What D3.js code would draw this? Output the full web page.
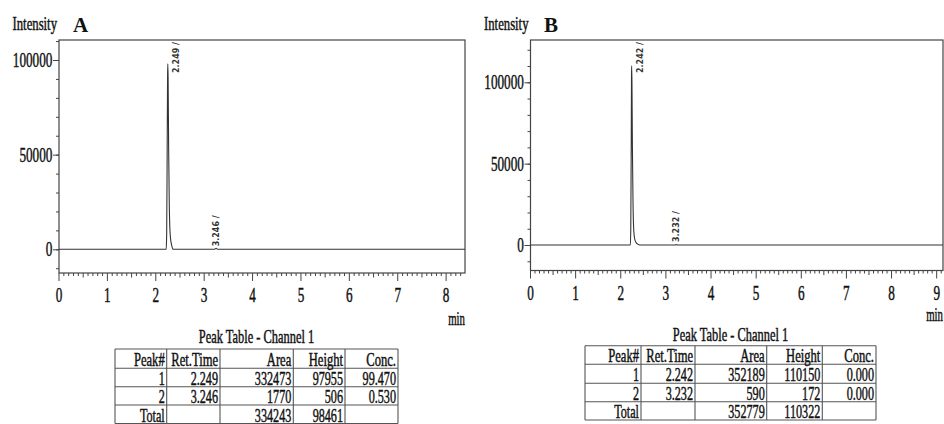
<!DOCTYPE html>
<html>
<head>
<meta charset="utf-8">
<script src="https://cdn.jsdelivr.net/npm/d3@7"></script>
<style>
  body { margin: 0; background: #fff; }
  svg { display: block; }
</style>
</head>
<body>
<svg width="944" height="424"></svg>
<script>
// chromatogram traces (min, intensity)
const timeA = [0, 2.20, 2.215, 2.225, 2.235, 2.244, 2.249, 2.255, 2.265, 2.28, 2.30, 2.33, 2.36, 3.21, 3.246, 3.28, 8.4];
const intensityA = [0, 0, 0, 8000, 50000, 92000, 97955, 90000, 55000, 22000, 7000, 2000, 0, 0, 506, 0, 0];
const timeB = [0, 2.20, 2.212, 2.222, 2.232, 2.238, 2.242, 2.248, 2.258, 2.272, 2.29, 2.32, 2.36, 2.42, 3.20, 3.232, 3.27, 9.2];
const intensityB = [0, 0, 0, 10000, 60000, 104000, 110150, 100000, 60000, 25000, 8000, 2500, 800, 0, 0, 172, 0, 0];

const peakTimesA = [2.249, 3.246];
const peakHeightsA = [97955, 506];
const peakTimesB = [2.242, 3.232];
const peakHeightsB = [110150, 172];

const yTickLabels = [0, 50000, 100000];
const xTicksA = [0, 1, 2, 3, 4, 5, 6, 7, 8];
const xTicksB = [0, 1, 2, 3, 4, 5, 6, 7, 8, 9];

const tableHeader = ["Peak#", "Ret.Time", "Area", "Height", "Conc."];
const rowsA = [
    ["1", "2.249", "332473", "97955", "99.470"],
    ["2", "3.246", "1770", "506", "0.530"],
    ["Total", "", "334243", "98461", ""]
];
const rowsB = [
    ["1", "2.242", "352189", "110150", "0.000"],
    ["2", "3.232", "590", "172", "0.000"],
    ["Total", "", "352779", "110322", ""]
];

const serif = "'Liberation Serif', 'Times New Roman', serif";
const ink = "#111";
const lineInk = "#444";

const svg = d3.select("svg");

function condensedText(g, x, y, txt, size, sx, anchor, weight) {
    return g.append("text")
        .attr("transform", `translate(${x},${y}) scale(${sx},1)`)
        .attr("text-anchor", anchor || "start")
        .style("font-family", serif)
        .style("font-size", size + "px")
        .style("font-weight", weight || "normal")
        .style("fill", ink)
        .style("stroke", ink)
        .style("stroke-width", weight ? 0 : 0.45)
        .text(txt);
}

function drawPanel(p) {
    const g = svg.append("g");
    const x = d3.scaleLinear().domain([0, p.xMax]).range([p.left, p.right]);
    const y = d3.scaleLinear().domain(p.yDomain).range([p.bottom, p.top]);

    // frame
    g.append("rect")
        .attr("x", p.left).attr("y", p.top)
        .attr("width", p.right - p.left).attr("height", p.bottom - p.top)
        .attr("fill", "none").attr("stroke", lineInk).attr("stroke-width", 1.2);

    // y axis, minor then major
    const minorY = d3.range(-10000, p.yDomain[1], 10000);
    g.append("g")
        .attr("transform", `translate(${p.left},0)`)
        .call(d3.axisLeft(y).tickValues(minorY).tickSize(3).tickFormat(""))
        .call(a => a.select(".domain").remove())
        .call(a => a.selectAll("line").attr("stroke", lineInk));

    const yAxis = g.append("g")
        .attr("transform", `translate(${p.left},0)`)
        .call(d3.axisLeft(y).tickValues(yTickLabels).tickSize(6).tickPadding(1).tickFormat(d3.format("d")))
        .call(a => a.select(".domain").remove())
        .call(a => a.selectAll("line").attr("stroke", lineInk));
    yAxis.selectAll("text")
        .attr("transform", "scale(0.66,1)")
        .attr("x", -10)
        .style("font-family", serif)
        .style("font-size", "20px")
        .style("fill", ink)
        .style("stroke", ink)
        .style("stroke-width", 0.45);

    // ruler at the bottom: 0.1 min ticks, longer at halves and whole minutes
    const ruler = g.append("g").attr("transform", `translate(0,${p.bottom})`);
    const steps = d3.range(0, Math.floor(p.xMax * 10) + 1);
    ruler.selectAll("line.minor")
        .data(steps)
        .join("line")
        .attr("class", "minor")
        .attr("x1", d => x(d / 10)).attr("x2", d => x(d / 10))
        .attr("y1", 0)
        .attr("y2", d => d % 10 === 0 ? 8 : (d % 5 === 0 ? 4.5 : 3))
        .attr("stroke", lineInk).attr("stroke-width", 1);

    ruler.selectAll("text")
        .data(p.xTicks)
        .join("text")
        .attr("transform", d => `translate(${x(d)},29) scale(0.66,1)`)
        .attr("text-anchor", "middle")
        .style("font-family", serif)
        .style("font-size", "20px")
        .style("fill", ink)
        .style("stroke", ink)
        .style("stroke-width", 0.45)
        .text(d => d);

    condensedText(g, p.right, p.bottom + p.minDy, "min", 18, 0.6, "end");

    // trace
    const pts = p.times.map((t, i) => [t, p.values[i]]);
    g.append("clipPath").attr("id", "clip" + p.name)
        .append("rect")
        .attr("x", p.left).attr("y", p.top)
        .attr("width", p.right - p.left).attr("height", p.bottom - p.top);
    g.append("path")
        .datum(pts)
        .attr("clip-path", `url(#clip${p.name})`)
        .attr("fill", "none")
        .attr("stroke", "#333")
        .attr("stroke-width", 1.1)
        .attr("d", d3.line().x(d => x(d[0])).y(d => y(d[1])).curve(d3.curveMonotoneX));

    // retention time labels
    p.peakTimes.forEach((t, i) => {
        const tall = y(p.peakHeights[i]) < p.top + 60;
        const lx = x(t) + (tall ? 11 : 3);
        const ly = tall ? p.top + 33 : y(0) - 3;
        g.append("text")
            .attr("transform", `translate(${lx},${ly}) rotate(-90)`)
            .style("font-family", "'DejaVu Sans', sans-serif")
            .style("font-size", "8px")
            .style("font-weight", "bold")
            .style("fill", "#333")
            .text(t.toFixed(3) + " /");
    });

    // titles
    condensedText(g, p.titleX, 29.5, "Intensity", 19, 0.67, "start");
    condensedText(g, p.letterX, 32, p.name, 21, 1, "start", "bold");
}

function drawTable(t) {
    const g = svg.append("g");
    const cx = (t.cols[0] + t.cols[t.cols.length - 1]) / 2;
    condensedText(g, cx, t.titleY, "Peak Table - Channel 1", 18, 0.69, "middle");

    const rows = [tableHeader].concat(t.rows);
    const left = t.cols[0], right = t.cols[t.cols.length - 1];

    g.selectAll("line.h")
        .data(t.rowY)
        .join("line")
        .attr("class", "h")
        .attr("x1", left).attr("x2", right)
        .attr("y1", d => d).attr("y2", d => d)
        .attr("stroke", "#555").attr("stroke-width", 1.1);

    g.selectAll("line.v")
        .data(t.cols)
        .join("line")
        .attr("class", "v")
        .attr("x1", d => d).attr("x2", d => d)
        .attr("y1", t.rowY[0]).attr("y2", t.rowY[t.rowY.length - 1])
        .attr("stroke", "#555").attr("stroke-width", 1.1);

    rows.forEach((r, ri) => {
        r.forEach((cell, ci) => {
            if (cell === "") return;
            const size = ri === 0 ? 18 : 19;
            const sx = ri === 0 ? 0.7 : 0.64;
            condensedText(g, t.cols[ci + 1] - 2, t.rowY[ri + 1] - 2, cell, size, sx, "end");
        });
    });
}

drawPanel({
    name: "A", left: 59, right: 465, top: 40, bottom: 273,
    xMax: 8.39, yDomain: [-12520, 110565], xTicks: xTicksA,
    times: timeA, values: intensityA,
    peakTimes: peakTimesA, peakHeights: peakHeightsA,
    titleX: 12.5, letterX: 73, minDy: 52
});

drawPanel({
    name: "B", left: 530.5, right: 943, top: 40, bottom: 270.5,
    xMax: 9.14, yDomain: [-15670, 126000], xTicks: xTicksB,
    times: timeB, values: intensityB,
    peakTimes: peakTimesB, peakHeights: peakHeightsB,
    titleX: 484, letterX: 544, minDy: 50
});

drawTable({
    cols: [115, 166.7, 220, 293.3, 345, 398],
    rowY: [349, 368.3, 386.7, 405, 423.5],
    titleY: 343.3, rows: rowsA
});

drawTable({
    cols: [585, 641, 695, 766.7, 822.3, 876],
    rowY: [345.7, 364.3, 383.3, 401.7, 420],
    titleY: 340.5, rows: rowsB
});
</script>
</body>
</html>
